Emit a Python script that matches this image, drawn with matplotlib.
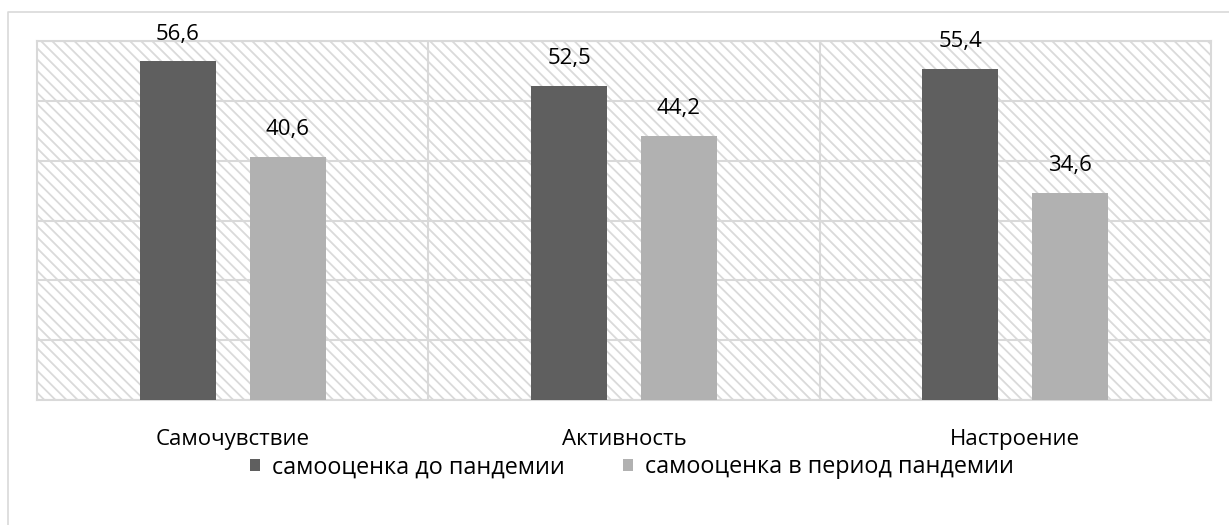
import matplotlib.pyplot as plt
import numpy as np
from matplotlib.lines import Line2D
from matplotlib.patches import Rectangle

# Данные
categories = ["Самочувствие", "Активность", "Настроение"]
before_values = [56.6, 52.5, 55.4]
during_values = [40.6, 44.2, 34.6]
series_labels = ["самооценка до пандемии", "самооценка в период пандемии"]

colors = ["#5f5f5f", "#b1b1b1"]
grid_color = "#d9d9d9"

plt.rcParams['font.family'] = ['Open Sans', 'DejaVu Sans']
plt.rcParams['hatch.linewidth'] = 1.3

x = np.arange(len(categories))
bar_width = 0.194
offset = 0.1405

fig = plt.figure(figsize=(12.29, 5.25), dpi=100)
ax = fig.add_axes([37 / 1229, 1 - 400 / 525, 1174 / 1229, 359 / 525])

# Заштрихованный фон области построения
bg = Rectangle((0, 0), 1, 1, transform=ax.transAxes, facecolor='white',
               edgecolor='#dadada', hatch='\\' * 3, linewidth=0, zorder=0)
ax.add_patch(bg)

bars1 = ax.bar(x - offset, before_values, width=bar_width, color=colors[0],
               label=series_labels[0], zorder=3)
bars2 = ax.bar(x + offset, during_values, width=bar_width, color=colors[1],
               label=series_labels[1], zorder=3)

for bar in list(bars1) + list(bars2):
    h = bar.get_height()
    ax.annotate(f'{h:.1f}'.replace('.', ','),
                xy=(bar.get_x() + bar.get_width() / 2, h),
                xytext=(0, 12), textcoords="offset points",
                ha='center', va='bottom', fontsize=16, color='#000000')

ax.set_xlim(-0.5, len(categories) - 0.5)
ax.set_ylim(0, 60)
ax.set_yticks(np.arange(0, 61, 10))
ax.set_yticklabels([])
ax.set_xticks(x)
ax.set_xticklabels(categories, fontsize=16)
ax.set_xticks(np.arange(0.5, len(categories) - 0.5, 1), minor=True)
ax.tick_params(axis='both', which='both', length=0)
ax.tick_params(axis='x', pad=21)

ax.grid(True, axis='y', color=grid_color, linewidth=1.5, zorder=1)
ax.grid(True, axis='x', which='minor', color=grid_color, linewidth=1.5, zorder=1)
ax.grid(False, axis='x', which='major')
ax.set_axisbelow(True)
for s in ax.spines.values():
    s.set_color(grid_color)
    s.set_linewidth(1.5)

ax.legend(loc='center', bbox_to_anchor=(0.514, 0.11), bbox_transform=fig.transFigure,
          ncol=2, frameon=False, fontsize=16.8, handlelength=0.43, handleheight=0.43,
          handletextpad=0.5, columnspacing=2.5)

# Рамка диаграммы
y_top = 1 - 12 / 525
x_left = 8 / 1229
fig.add_artist(Line2D([x_left, x_left, 1], [0, y_top, y_top],
                      transform=fig.transFigure, color=grid_color, linewidth=1.2))

fig.savefig('out.png', dpi=100)
